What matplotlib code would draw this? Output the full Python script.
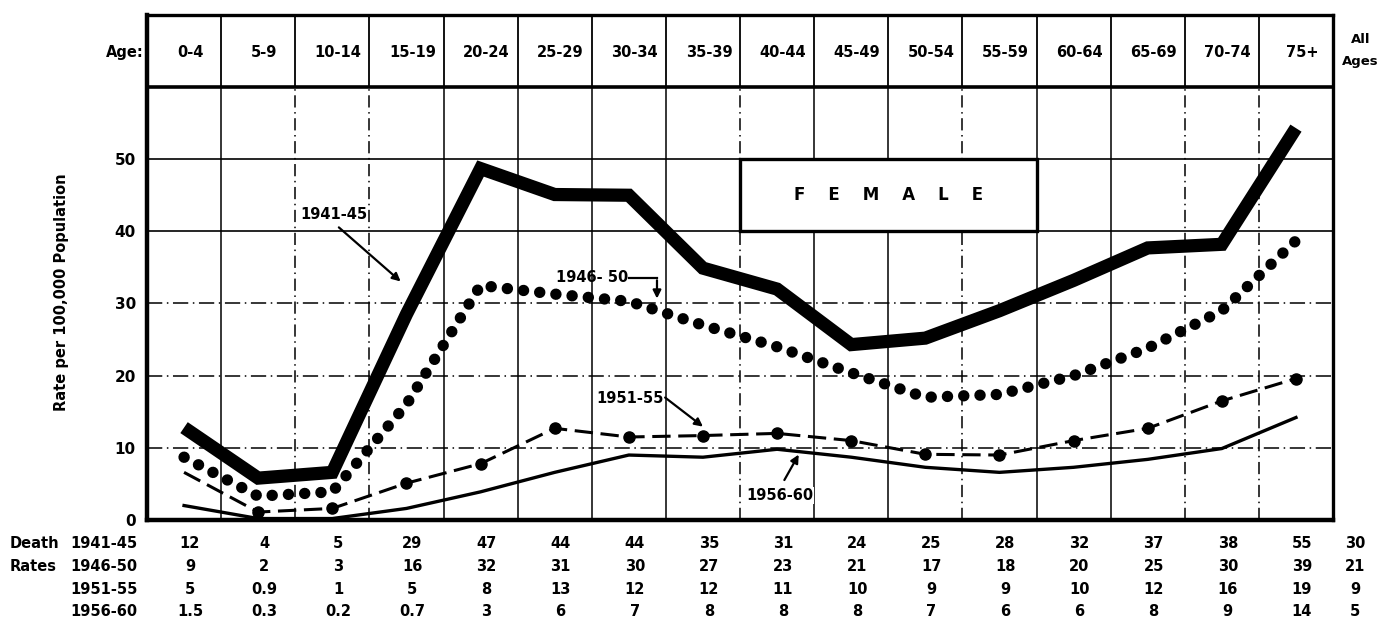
import matplotlib
matplotlib.use('Agg')
import matplotlib.pyplot as plt
import numpy as np

# age groups (header) and the table of death rates
ages = ["0-4", "5-9", "10-14", "15-19", "20-24", "25-29", "30-34", "35-39",
        "40-44", "45-49", "50-54", "55-59", "60-64", "65-69", "70-74", "75+"]
periods = ["1941-45", "1946-50", "1951-55", "1956-60"]
table_1941 = ["12", "4", "5", "29", "47", "44", "44", "35", "31", "24", "25", "28", "32", "37", "38", "55"]
table_1946 = ["9", "2", "3", "16", "32", "31", "30", "27", "23", "21", "17", "18", "20", "25", "30", "39"]
table_1951 = ["5", "0.9", "1", "5", "8", "13", "12", "12", "11", "10", "9", "9", "10", "12", "16", "19"]
table_1956 = ["1.5", "0.3", "0.2", "0.7", "3", "6", "7", "8", "8", "8", "7", "6", "6", "8", "9", "14"]
all_ages = ["30", "21", "9", "5"]

# curves as drawn on the chart (one value per age group)
curve_1941 = [12.8, 5.8, 6.6, 28.5, 48.7, 45.1, 45.0, 34.9, 32.0, 24.3, 25.2, 29.0, 33.2, 37.7, 38.2, 54.3]
curve_1946 = [8.7, 3.3, 3.9, 16.0, 32.5, 31.3, 30.3, 27.0, 24.0, 20.4, 17.0, 17.4, 20.0, 23.8, 29.0, 38.7]
curve_1951 = [6.6, 1.1, 1.6, 5.1, 7.8, 12.7, 11.5, 11.7, 12.0, 11.0, 9.1, 9.0, 11.0, 12.7, 16.5, 19.6]
curve_1956 = [2.0, 0.2, 0.2, 1.6, 3.9, 6.6, 9.0, 8.7, 9.8, 8.7, 7.3, 6.6, 7.3, 8.4, 9.9, 14.2]

plt.rcParams.update({
    'font.family': 'DejaVu Sans',
    'font.weight': 'bold',
    'font.size': 10.5,
})

fig = plt.figure(figsize=(13.88, 6.18), dpi=100)
ax = fig.add_axes([0.1059, 0.1586, 0.8545, 0.8174])
ax.set_xlim(-0.5, 15.5)
ax.set_ylim(0, 70)
x = np.arange(len(ages))

# grid: column boundaries and horizontal rules
dashed_cols = {2, 3, 8, 11, 14, 15}
for b in range(1, 16):
    bx = b - 0.5
    ax.plot([bx, bx], [60, 70], color='black', lw=1.3, zorder=1)
    ls = (0, (8, 3, 1, 3)) if b in dashed_cols else '-'
    ax.plot([bx, bx], [0, 60], color='black', lw=1.1, ls=ls, zorder=1)
for gy in [10, 20, 30]:
    ax.axhline(gy, color='black', lw=1.1, ls=(0, (10, 3, 1, 3)), zorder=1)
for gy in [40, 50]:
    ax.axhline(gy, color='black', lw=1.2, zorder=1)
ax.axhline(60, color='black', lw=2.6, zorder=3)

for side in ['top', 'right']:
    ax.spines[side].set_linewidth(2.4)
ax.spines['left'].set_linewidth(3.2)
ax.spines['bottom'].set_linewidth(3.2)

ax.set_xticks([])
ax.set_yticks([0, 10, 20, 30, 40, 50])
ax.set_yticklabels(['0', '10', '20', '30', '40', '50'], fontsize=11, fontweight='bold')
ax.tick_params(axis='y', length=0, pad=8)

# header
ax.text(-0.55, 64.8, "Age:", ha='right', va='center', fontsize=10.5, clip_on=False)
for i, a in enumerate(ages):
    ax.text(i + 0.08, 64.8, a, ha='center', va='center', fontsize=10.5)
ax.text(15.87, 66.6, "All", ha='center', va='center', fontsize=9.5, clip_on=False)
ax.text(15.87, 63.6, "Ages", ha='center', va='center', fontsize=9.5, clip_on=False)

# curves
ax.plot(x, curve_1941, color='black', lw=9.5, solid_joinstyle='miter', solid_capstyle='butt', zorder=5)
ax.plot(x, curve_1946, color='black', lw=8.2, ls=(0, (0.01, 1.42)),
        dash_capstyle='round', zorder=5)
ax.plot(x, curve_1951, color='black', lw=2.2, ls=(0, (6, 2.5)), zorder=5)
ax.plot(x[1:], curve_1951[1:], 'o', color='black', ms=8, zorder=5)
ax.plot(x, curve_1956, color='black', lw=2.4, zorder=5)

# FEMALE box
ax.add_patch(plt.Rectangle((7.5, 40), 4, 10, facecolor='white', edgecolor='black', lw=2.4, zorder=4))
ax.text(9.5, 45, "F    E    M    A    L    E", ha='center', va='center', fontsize=12, zorder=6)

# curve labels
arrow = dict(arrowstyle='-|>', color='black', lw=1.6, mutation_scale=12)
ax.text(2.02, 42.3, "1941-45", ha='center', va='center', fontsize=10.5, zorder=6)
ax.annotate("", xy=(2.95, 32.8), xytext=(2.06, 40.8), arrowprops=arrow, zorder=6)
ax.text(5.5, 33.6, "1946- 50", ha='center', va='center', fontsize=10.5, zorder=6)
ax.plot([6.0, 6.38], [33.6, 33.6], color='black', lw=1.6, zorder=6)
ax.annotate("", xy=(6.38, 30.3), xytext=(6.38, 33.6), arrowprops=arrow, zorder=6)
ax.text(6.02, 16.8, "1951-55", ha='center', va='center', fontsize=10.5, zorder=6,
        bbox=dict(facecolor='white', edgecolor='none', pad=0.5))
ax.annotate("", xy=(7.03, 12.7), xytext=(6.46, 17.2), arrowprops=arrow, zorder=6)
ax.text(8.04, 3.4, "1956-60", ha='center', va='center', fontsize=10.5, zorder=6,
        bbox=dict(facecolor='white', edgecolor='none', pad=0.5))
ax.annotate("", xy=(8.31, 9.4), xytext=(8.08, 5.2), arrowprops=arrow, zorder=6)

# y label
ax.text(-1.65, 31.6, "Rate per 100,000 Population", rotation=90, ha='center', va='center',
        fontsize=10.5, clip_on=False)

# table of rates below the chart
row_y = [-3.2, -6.4, -9.6, -12.7]
rows = [table_1941, table_1946, table_1951, table_1956]
ax.text(-2.35, row_y[0], "Death", ha='left', va='center', fontsize=10.5, clip_on=False)
ax.text(-2.35, row_y[1], "Rates", ha='left', va='center', fontsize=10.5, clip_on=False)
for ry, p, vals, tot in zip(row_y, periods, rows, all_ages):
    ax.text(-0.63, ry, p, ha='right', va='center', fontsize=10.5, clip_on=False)
    for i, v in enumerate(vals):
        ax.text(i + 0.08, ry, v, ha='center', va='center', fontsize=10.5, clip_on=False)
    ax.text(15.8, ry, tot, ha='center', va='center', fontsize=10.5, clip_on=False)

fig.savefig("out.png", dpi=100)
